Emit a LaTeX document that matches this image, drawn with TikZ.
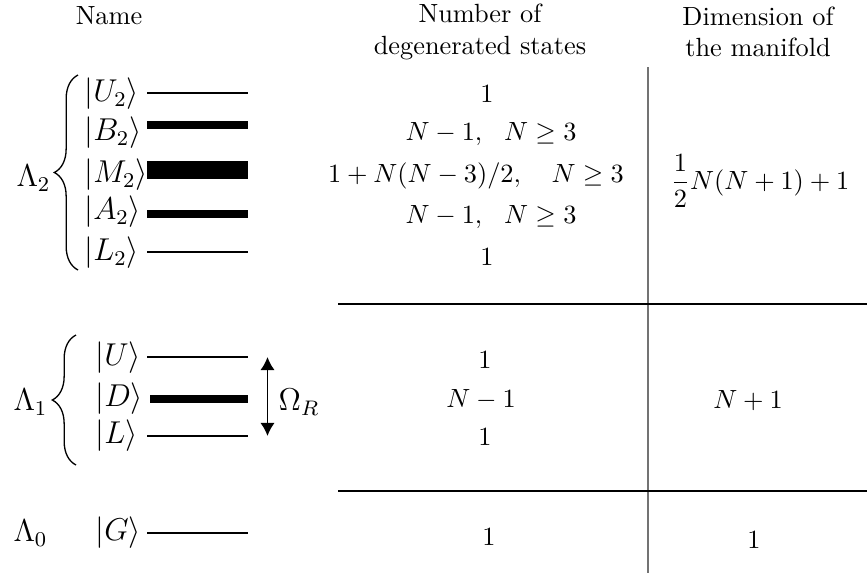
\documentclass[tikz,border=0pt]{standalone}
\usepackage{amsmath}
\usetikzlibrary{arrows.meta,positioning,decorations.pathreplacing}

\begin{document}
\begin{tikzpicture}[
    x=0.38pt, y=-0.38pt,
    head/.style = {align=center},
    ket/.style = {anchor=west, inner sep=0pt, font=\large},
    manifold/.style = {font=\large},
    level/.style = {fill=black, inner sep=0pt, minimum width=38.4pt},
    entry/.style = {inner sep=0pt},
    rule/.style = {draw, line width=0.6pt},
    sep/.style = {draw=black!55, line width=0.6pt},
    brace/.style = {draw, decorate, decoration={brace, amplitude=9pt}, line width=0.5pt},
    line/.style = {draw, line width=0.7pt, {Latex[length=5pt,width=5.5pt]}-{Latex[length=5pt,width=5.5pt]}}
]
    \useasboundingbox (0,0) rectangle (867,573);

    % Header
    \node [head] (hname) at (109,16) {Name};
    \node [head] (hnum) at (480,32) {Number of\\degenerated states};
    \node [head] (hdim) at (758,32) {Dimension of\\the manifold};

    % Table rules
    \coordinate (vtop) at (648,67);
    \coordinate (vbot) at (648,573);
    \coordinate (r1a) at (338,304);
    \coordinate (r1b) at (867,304);
    \coordinate (r2a) at (338,491);
    \coordinate (r2b) at (867,491);
    \path [sep] (vtop) -- (vbot);
    \path [rule] (r1a) -- (r1b);
    \path [rule] (r2a) -- (r2b);

    % Second manifold
    \node [ket] (kU2) at (84,94) {$|U_2\rangle$};
    \node [ket] (kB2) at (84,133) {$|B_2\rangle$};
    \node [ket] (kM2) at (84,175) {$|M_2\rangle$};
    \node [ket] (kA2) at (84,212) {$|A_2\rangle$};
    \node [ket] (kL2) at (84,253) {$|L_2\rangle$};
    \node [level, minimum height=1.1pt] (lU2) at (197.5,93) {};
    \node [level, minimum height=2.7pt] (lB2) at (197.5,125) {};
    \node [level, minimum height=6.5pt] (lM2) at (197.5,170) {};
    \node [level, minimum height=3pt] (lA2) at (197.5,214) {};
    \node [level, minimum height=1.1pt] (lL2) at (197.5,252) {};
    \coordinate (b2bot) at (78,270);
    \coordinate (b2top) at (78,75);
    \path [brace] (b2bot) -- (b2top);
    \node [manifold] (lam2) at (33.5,178) {$\Lambda_2$};

    % First manifold
    \node [ket] (kU) at (95,358) {$|U\rangle$};
    \node [ket] (kD) at (95,399) {$|D\rangle$};
    \node [ket] (kL) at (95,436) {$|L\rangle$};
    \node [level, minimum height=1.1pt] (lU) at (197.5,357) {};
    \node [level, minimum height=3pt, minimum width=37.2pt] (lD) at (199,399) {};
    \node [level, minimum height=1.1pt] (lL) at (197.5,436) {};
    \coordinate (b1bot) at (76,465);
    \coordinate (b1top) at (76,335);
    \path [brace] (b1bot) -- (b1top);
    \node [manifold] (lam1) at (30.5,402) {$\Lambda_1$};
    \coordinate (rabi1) at ([xshift=7.2pt]lU.east);
    \coordinate (rabi2) at ([xshift=7.2pt]lL.east);
    \path [line] (rabi1) -- (rabi2);
    \node [manifold] (omega) at (299,402) {$\Omega_R$};

    % Ground state
    \node [manifold] (lam0) at (30.5,533) {$\Lambda_0$};
    \node [ket] (kG) at (95,533) {$|G\rangle$};
    \node [level, minimum height=1.1pt] (lG) at (197.5,533) {};

    % Degeneracies
    \node [entry] (nU2) at (487,94) {$1$};
    \node [entry] (nB2) at (491,134) {$N-1,\ \ N\geq 3$};
    \node [entry] (nM2) at (476,176) {$1+N(N-3)/2,\quad N\geq 3$};
    \node [entry] (nA2) at (491,217) {$N-1,\ \ N\geq 3$};
    \node [entry] (nL2) at (487,257) {$1$};
    \node [entry] (nU) at (485,360) {$1$};
    \node [entry] (nD) at (481,400) {$N-1$};
    \node [entry] (nL) at (485,437) {$1$};
    \node [entry] (nG) at (489,537) {$1$};

    % Dimensions
    \node [entry] (d2) at (760,181) {$\dfrac{1}{2}N(N+1)+1$};
    \node [entry] (d1) at (748,401) {$N+1$};
    \node [entry] (d0) at (754,540) {$1$};
\end{tikzpicture}
\end{document}
